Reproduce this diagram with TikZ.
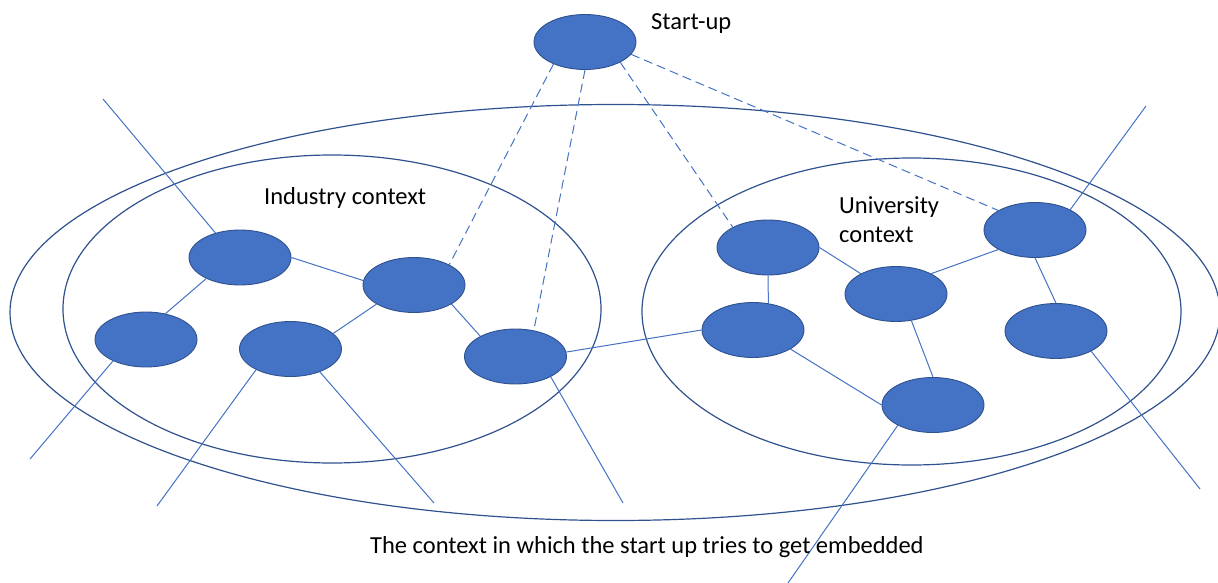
\documentclass[tikz,border=0pt]{standalone}
\usepackage{fontspec}
\setmainfont{Carlito}
\usetikzlibrary{shapes.geometric}
\definecolor{nodefill}{HTML}{4472C4}
\definecolor{nodeedge}{HTML}{2F528F}
\begin{document}
\begin{tikzpicture}[x=1pt,y=-1pt,
  actor/.style={ellipse, fill=nodefill, draw=nodeedge, line width=0.9pt,
    minimum width=102pt, minimum height=55pt, inner sep=0pt},
  tie/.style={draw=nodefill, line width=1pt},
  probe/.style={draw=nodefill, line width=1pt, dash pattern=on 9pt off 5pt},
  ring/.style={draw=nodeedge, line width=1.2pt},
  lbl/.style={inner sep=0pt, font=\fontsize{24.5}{29}\selectfont, text=black}]
\useasboundingbox (0,0) rectangle (1218,583);

% context rings
\draw[ring] (615,312.5) ellipse [x radius=605pt, y radius=208pt];
\draw[ring] (332,309) ellipse [x radius=269pt, y radius=154pt];
\draw[ring] (911.5,311.5) ellipse [x radius=269.5pt, y radius=153.5pt];

% actors
\node[actor] (S) at (585,42) {};
\node[actor] (A) at (240,257.5) {};
\node[actor] (B) at (414,285) {};
\node[actor] (C) at (146,339.5) {};
\node[actor] (D) at (290.5,349) {};
\node[actor] (E) at (515.5,356.5) {};
\node[actor] (F) at (768,247.5) {};
\node[actor] (G) at (896,294) {};
\node[actor] (H) at (1035,230) {};
\node[actor] (I) at (753,330) {};
\node[actor] (J) at (1056,331) {};
\node[actor] (K) at (933,405) {};

% open ends of the network
\coordinate (endA) at (103,99);
\coordinate (endC) at (30,459);
\coordinate (endD1) at (157,506);
\coordinate (endD2) at (434,503);
\coordinate (endE) at (623,503);
\coordinate (endH) at (1146,106);
\coordinate (endJ) at (1200,489);
\coordinate (endK) at (788,583);

% ties inside the network
\draw[tie] (A.0) -- (B.175);
\draw[tie] (A.212) -- (C.53);
\draw[tie] (B.207) -- (D.20);
\draw[tie] (B.333) -- (E.150);
\draw[tie] (E.5) -- (I.180);
\draw[tie] (F.270) -- (I.60);
\draw[tie] (F.0) -- (G.150);
\draw[tie] (G.30) -- (H.208);
\draw[tie] (G.300) -- (K.90);
\draw[tie] (H.270) -- (J.90);
\draw[tie] (I.333) -- (K.180);

\draw[tie] (A.135) -- (endA);
\draw[tie] (C.213) -- (endC);
\draw[tie] (D.211) -- (endD1);
\draw[tie] (D.322) -- (endD2);
\draw[tie] (E.330) -- (endE);
\draw[tie] (H.30) -- (endH);
\draw[tie] (J.330) -- (endJ);
\draw[tie] (K.210) -- (endK);

% start-up probing links
\draw[probe] (S.215) -- (B.30);
\draw[probe] (S.270) -- (E.55);
\draw[probe] (S.330) -- (F.150);
\draw[probe] (S.345) -- (H.152);

% labels
\node[lbl, anchor=base west] (tS) at (651,30) {Start-up};
\node[lbl, anchor=base west] (tInd) at (264,204) {Industry context};
\node[lbl, anchor=base west] (tUni1) at (839,213) {University};
\node[lbl, anchor=base west] (tUni2) at (839,242) {context};
\node[lbl, anchor=base west] (tCap) at (370,553) {The context in which the start up tries to get embedded};
\end{tikzpicture}
\end{document}
